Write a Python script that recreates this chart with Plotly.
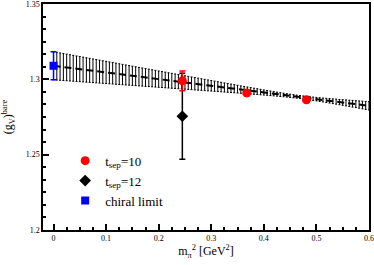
import plotly.graph_objects as go

# fit parameters (linear chiral fit) and error envelope
fit_intercept = 1.309
fit_slope = -0.0443
fit_err_min = 0.001
fit_err_slope = 0.0197
fit_err_x0 = 0.47
band_step = 0.00625
band_n = 97

# data
tsep10_x = [0.245, 0.3675, 0.481]
tsep10_y = [1.299, 1.291, 1.2864]
tsep10_err = [0.0065, 0.002, 0.001]

tsep12_x = [0.245]
tsep12_y = [1.2755]
tsep12_err = [0.0285]

chiral_x = [0.0]
chiral_y = [1.309]
chiral_err = [0.0093]

band_x = [i * band_step for i in range(band_n)]
band_y = [fit_intercept + fit_slope * x for x in band_x]
band_err = [(fit_err_min ** 2 + (fit_err_slope * (x - fit_err_x0)) ** 2) ** 0.5 for x in band_x]

serif = "Liberation Serif"

fig = go.Figure()

fig.add_trace(go.Scatter(
    x=band_x, y=band_y, mode="markers",
    marker=dict(size=0.1, color="rgba(0,0,0,0)"),
    error_y=dict(type="data", array=band_err, visible=True, color="black", thickness=1, width=1),
    showlegend=False, hoverinfo="skip"))

fig.add_trace(go.Scatter(
    x=[band_x[0], band_x[-1]], y=[band_y[0], band_y[-1]], mode="lines",
    line=dict(color="black", width=2, dash="7px,4px"),
    showlegend=False, hoverinfo="skip"))

fig.add_trace(go.Scatter(
    x=tsep12_x, y=tsep12_y, mode="markers", name="t<sub>sep</sub>=12", legendrank=2,
    marker=dict(symbol="diamond", size=9, color="black"),
    error_y=dict(type="data", array=tsep12_err, visible=True, color="black", thickness=1.5, width=3)))

fig.add_trace(go.Scatter(
    x=tsep10_x, y=tsep10_y, mode="markers", name="t<sub>sep</sub>=10", legendrank=1,
    marker=dict(symbol="circle", size=9, color="red"),
    error_y=dict(type="data", array=tsep10_err, visible=True, color="red", thickness=1.5, width=3)))

fig.add_trace(go.Scatter(
    x=chiral_x, y=chiral_y, mode="markers", name="chiral limit", legendrank=3,
    marker=dict(symbol="square", size=8, color="blue"),
    error_y=dict(type="data", array=chiral_err, visible=True, color="blue", thickness=1.5, width=3)))

axis_common = dict(
    showline=True, linecolor="black", linewidth=1.5, mirror=True,
    ticks="inside", ticklen=6, tickwidth=1.5, tickcolor="black",
    showgrid=False, zeroline=False, ticklabeloverflow="allow",
    tickfont=dict(family=serif, size=8, color="black"),
)

fig.update_xaxes(
    range=[-0.02, 0.60001], dtick=0.1, tick0=0,
    minor=dict(dtick=0.025, ticks="inside", ticklen=3, tickwidth=1.5, tickcolor="black", showgrid=False),
    title=dict(text="m<sub>π</sub><sup>2</sup> [GeV<sup>2</sup>]", font=dict(family=serif, size=12, color="black"), standoff=2),
    **axis_common)

fig.update_yaxes(
    range=[1.19999, 1.35001], dtick=0.05, tick0=1.2, tickformat="~g",
    minor=dict(dtick=0.05 / 6, ticks="inside", ticklen=3, tickwidth=1.5, tickcolor="black", showgrid=False),
    title=dict(text="(g<sub>V</sub>)<sup>bare</sup>", font=dict(family=serif, size=12, color="black"), standoff=10),
    **axis_common)

fig.update_layout(
    width=374, height=265,
    margin=dict(l=43, r=5, t=4, b=35, autoexpand=False),
    paper_bgcolor="white", plot_bgcolor="white",
    legend=dict(x=0.068, y=0.373, xanchor="left", yanchor="top",
                font=dict(family=serif, size=13, color="black"),
                bgcolor="rgba(0,0,0,0)", tracegroupgap=0, itemwidth=30),
)

fig.write_html("out.html", config={"displayModeBar": False},
               post_script="document.body.style.margin='0';document.body.style.overflow='hidden';")
